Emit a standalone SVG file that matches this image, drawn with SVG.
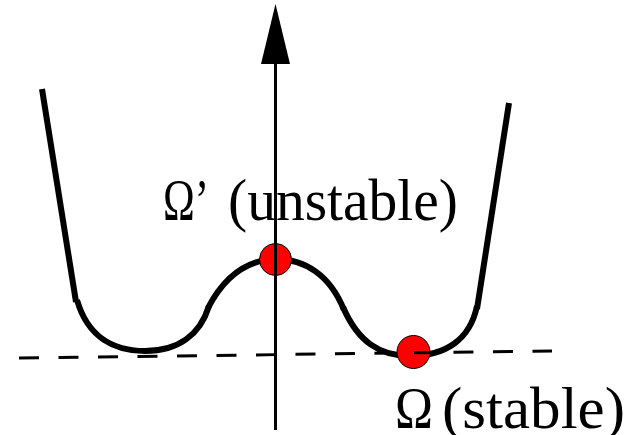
<svg xmlns="http://www.w3.org/2000/svg" width="627" height="435" viewBox="0 0 627 435">
<style>
.lbl{font-family:"Liberation Serif","Times New Roman",serif;font-size:59px;fill:#000}
.curve{fill:none;stroke:#000;stroke-width:6}
.pt{fill:#ff0000;stroke:#000;stroke-width:1}
</style>
<rect width="627" height="435" fill="#fff"/>
<g id="label-unstable">
<text class="lbl" x="163" y="220" textLength="46" lengthAdjust="spacingAndGlyphs">Ω’</text>
<text class="lbl" x="228" y="220" textLength="230" lengthAdjust="spacingAndGlyphs">(unstable)</text>
</g>
<g id="label-stable">
<text class="lbl" x="395" y="428" textLength="38" lengthAdjust="spacingAndGlyphs">Ω</text>
<text class="lbl" x="442" y="428" textLength="183" lengthAdjust="spacingAndGlyphs">(stable)</text>
</g>
<g id="potential">
<path class="curve" d="M42,89 L76,302"/>
<path class="curve" d="M77,300 C88,338 115,351 145,351 C178,351 200,335 209,306"/>
<path class="curve" d="M208,308 C226,273 250,260 275,259 C305,259 330,275 344,310"/>
<path class="curve" d="M343,307 C358,342 380,356 410,356 C445,356 470,340 477,306"/>
<path class="curve" d="M477,309 L509,103"/>
</g>
<g id="omega-prime"><circle class="pt" cx="275.5" cy="259.5" r="16"/></g>
<g id="omega"><circle class="pt" cx="413.5" cy="352" r="16.5"/></g>
<g id="connectors">
<path d="M19,358 L552,351" fill="none" stroke="#000" stroke-width="3" stroke-dasharray="20 19.5"/>
<path d="M275.5,430 L275.5,62" fill="none" stroke="#000" stroke-width="3"/>
<polygon points="275.5,4 290,64 261,64" fill="#000"/>
</g>
</svg>
